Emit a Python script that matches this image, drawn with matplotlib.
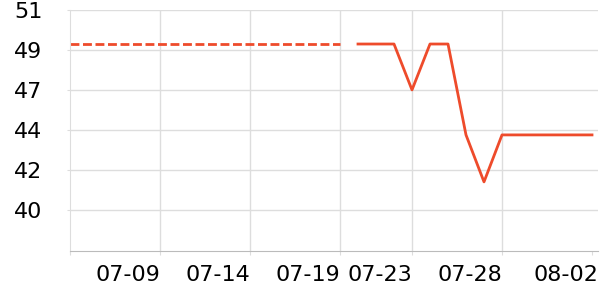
import matplotlib
matplotlib.use("Agg")
import matplotlib.pyplot as plt
import matplotlib.transforms as mtransforms
import numpy as np
import pandas as pd

# earlier period (dashed) and recent period (solid)
dash_dates = ["2024-07-04", "2024-07-19"]
dash_vals = [49.22, 49.22]
solid_dates = ["2024-07-20", "2024-07-21", "2024-07-22", "2024-07-23", "2024-07-24",
               "2024-07-25", "2024-07-26", "2024-07-27", "2024-07-28", "2024-07-29",
               "2024-07-30", "2024-07-31", "2024-08-01", "2024-08-02"]
solid_vals = [49.22, 49.22, 49.22, 46.67, 49.22, 49.22, 44.17, 41.56, 44.17, 44.17,
              44.17, 44.17, 44.17, 44.17]

tick_dates = ["2024-07-04", "2024-07-09", "2024-07-14", "2024-07-19",
              "2024-07-23", "2024-07-28", "2024-08-02"]
tick_labels = ["", "07-09", "07-14", "07-19", "07-23", "07-28", "08-02"]
y_ticks = [40.0, 42.22, 44.44, 46.67, 48.89, 51.11]
y_labels = ["40", "42", "44", "47", "49", "51"]

color = "#ee4b2b"

fig = plt.figure(figsize=(6, 3), dpi=100)
ax = fig.add_axes([70 / 600, 49 / 300, 528 / 600, 241 / 300])

ax.plot(pd.to_datetime(dash_dates), dash_vals, color=color, lw=2.0,
        dashes=(3.2, 1.3), solid_capstyle="butt")
ax.plot(pd.to_datetime(solid_dates), solid_vals, color=color, lw=2.0)

xt = pd.to_datetime(tick_dates)
ax.set_xticks(xt)
ax.set_xticklabels(tick_labels, ha="right")
ax.set_xlim(xt[0], pd.Timestamp("2024-08-02 08:00"))
ax.set_ylim(37.72, 51.11)
ax.set_yticks(y_ticks)
ax.set_yticklabels(y_labels)

ax.grid(True, color="#dddddd", lw=1.0)
ax.xaxis.get_gridlines()[-1].set_visible(False)
ax.xaxis.get_gridlines()[0].set_visible(False)
ax.set_axisbelow(True)

for s in ["top", "right"]:
    ax.spines[s].set_visible(False)
ax.spines["left"].set_color("#dddddd")
ax.spines["bottom"].set_color("#bbbbbb")

ax.tick_params(axis="x", length=3, color="#dddddd", pad=7, labelsize=16)
ax.tick_params(axis="y", length=2, color="#dddddd", pad=18, labelsize=16)

# last label is pushed right a little, as in the original
last = ax.get_xticklabels()[-1]
last.set_transform(last.get_transform() + mtransforms.ScaledTranslation(6 / 100, 0, fig.dpi_scale_trans))

fig.savefig("out.png", dpi=100)
